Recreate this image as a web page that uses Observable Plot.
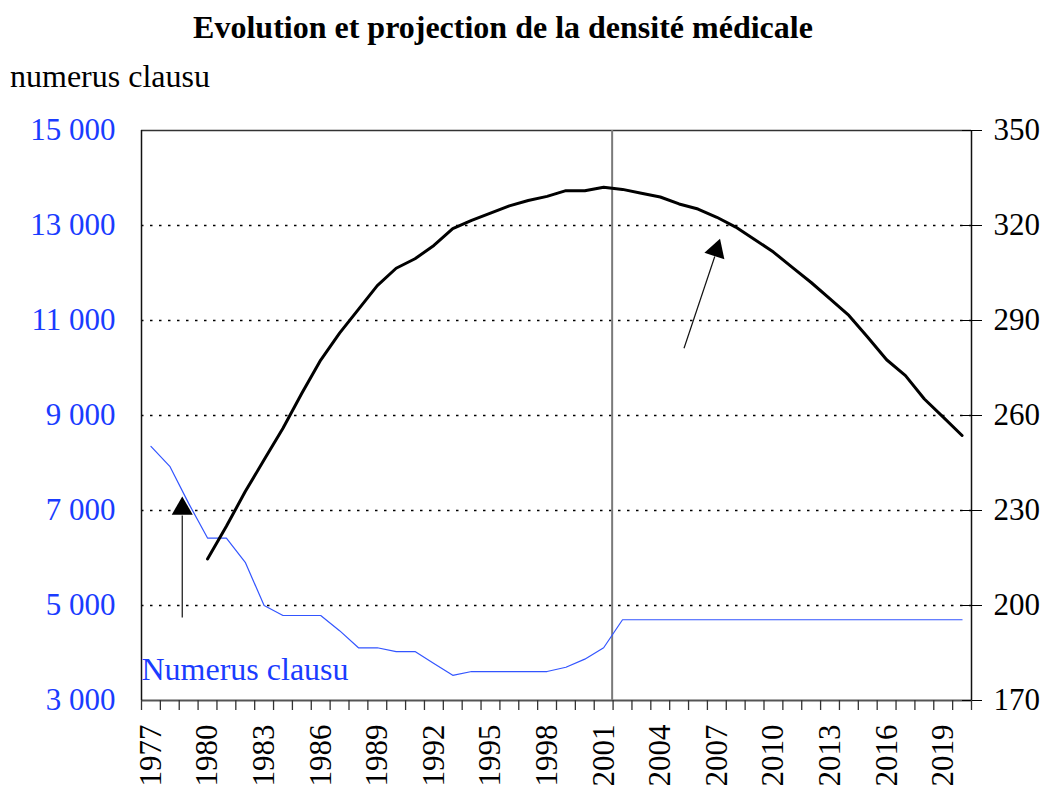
<!DOCTYPE html>
<html>
<head>
<meta charset="utf-8">
<script src="https://cdn.jsdelivr.net/npm/d3@7"></script>
<script src="https://cdn.jsdelivr.net/npm/@observablehq/plot@0.6"></script>
<style>
  html, body { margin: 0; padding: 0; background: #fff; }
  #wrap { position: relative; width: 1047px; height: 785px; overflow: hidden; font-family: "Liberation Serif", "Times New Roman", serif; }
  .title { position: absolute; left: 0; width: 1006px; top: 11px; text-align: center; font-weight: bold; font-size: 32px; line-height: 32px; color: #000; white-space: nowrap; }
  .sub { position: absolute; left: 10px; top: 60px; font-size: 32px; line-height: 32px; color: #000; white-space: nowrap; }
  #chart { position: absolute; left: 0; top: 0; }
</style>
</head>
<body>
<div id="wrap">
  <div id="chart"></div>
  <div class="title">Evolution et projection de la densité médicale</div>
  <div class="sub">numerus clausu</div>
</div>
<script>
// ---- data ----
const years = [1977,1978,1979,1980,1981,1982,1983,1984,1985,1986,1987,1988,1989,1990,1991,1992,1993,1994,1995,1996,1997,1998,1999,2000,2001,2002,2003,2004,2005,2006,2007,2008,2009,2010,2011,2012,2013,2014,2015,2016,2017,2018,2019,2020];
const numerusClausus = [8350,7930,7150,6420,6420,5910,5000,4790,4790,4790,4470,4110,4110,4030,4030,3780,3530,3610,3610,3610,3610,3610,3700,3870,4110,4700,4700,4700,4700,4700,4700,4700,4700,4700,4700,4700,4700,4700,4700,4700,4700,4700,4700,4700];
const densityYears = [1980,1981,1982,1983,1984,1985,1986,1987,1988,1989,1990,1991,1992,1993,1994,1995,1996,1997,1998,1999,2000,2001,2002,2003,2004,2005,2006,2007,2008,2009,2010,2011,2012,2013,2014,2015,2016,2017,2018,2019,2020];
const density = [214.7,225,236,246,256,267,277.5,286,293.5,301,306.5,309.5,313.7,319,321.6,323.9,326.2,327.9,329.2,331,331,332.1,331.4,330.2,329,326.8,325.2,322.6,319.5,315.6,311.6,306.8,302,296.8,291.6,284.7,277.6,272.6,265.2,259.5,253.7];

const leftTicks = [3000,5000,7000,9000,11000,13000,15000];
const leftTickLabels = ["3 000","5 000","7 000","9 000","11 000","13 000","15 000"];
const rightTicks = [170,200,230,260,290,320,350];
const xLabelYears = [1977,1980,1983,1986,1989,1992,1995,1998,2001,2004,2007,2010,2013,2016,2019];
const gridLines = [5000,7000,9000,11000,13000];
const xDomain = [1976.5, 2020.5];
const splitYear = [2001.45];
const seriesLabel = [{year: 1976.5, value: 3436, text: "Numerus clausu"}];
const arrowShafts = [
  {x1: 1978.66, y1: 4747, x2: 1978.66, y2: 6895},
  {x1: 2005.26, y1: 10417, x2: 2006.89, y2: 12347}
];
const arrowHeads = [
  {x: 1978.66, y: 7040, angle: 0},
  {x: 2006.97, y: 12478, angle: 18}
];

// ---- derived ----
const toLeft = d3.scaleLinear([170, 350], [3000, 15000]);
const numerusData = years.map((y, i) => ({year: y, value: numerusClausus[i]}));
const densityData = densityYears.map((y, i) => ({year: y, value: toLeft(density[i])}));
const xEdges = d3.range(years.length + 1).map(i => xDomain[0] + i);

const BLUE = "#1a3cff";
const FONT = "Liberation Serif, Times New Roman, serif";

const chart = Plot.plot({
  width: 1047,
  height: 785,
  marginLeft: 141,
  marginRight: 76,
  marginTop: 130,
  marginBottom: 85,
  style: {fontFamily: FONT, background: "transparent", overflow: "visible"},
  x: {domain: xDomain, axis: null},
  y: {domain: [3000, 15000], axis: null},
  marks: [
    Plot.ruleY(gridLines, {stroke: "#000", strokeWidth: 1.3, strokeDasharray: "2.5,6.5"}),
    Plot.ruleY([15000], {stroke: "#333", strokeWidth: 1.3}),
    Plot.ruleY([3000], {stroke: "#555", strokeWidth: 2}),
    Plot.ruleX([xDomain[0]], {stroke: "#111", strokeWidth: 1.5}),
    Plot.ruleX([xDomain[1]], {stroke: "#111", strokeWidth: 1.5}),
    Plot.ruleX(splitYear, {stroke: "#7a7a7a", strokeWidth: 2}),
    Plot.line(numerusData, {x: "year", y: "value", stroke: "#3355ff", strokeWidth: 1.2}),
    Plot.line(densityData, {x: "year", y: "value", stroke: "#000", strokeWidth: 3}),
    Plot.link(arrowShafts, {x1: "x1", y1: "y1", x2: "x2", y2: "y2", stroke: "#111", strokeWidth: 1.2}),
    Plot.dot(arrowHeads, {x: "x", y: "y", symbol: "triangle", r: 7.8, fill: "#000", stroke: null, rotate: "angle"}),
    Plot.text(seriesLabel, {x: "year", y: "value", text: "text", textAnchor: "start", lineAnchor: "bottom", fill: BLUE, fontSize: 32, fontFamily: FONT}),
    // left axis
    Plot.axisY(leftTicks, {anchor: "left", tickSize: 0, tickPadding: 26, fontSize: 31, fill: BLUE, fontFamily: FONT,
      tickFormat: d => leftTickLabels[leftTicks.indexOf(d)]}),
    // right axis
    Plot.axisY(rightTicks.map(toLeft), {anchor: "right", tickSize: 20, dx: -10, tickPadding: 12, fontSize: 31, fontFamily: FONT,
      stroke: "#000", fill: "#000", tickFormat: d => String(Math.round(toLeft.invert(d)))}),
    // x axis ticks at category edges
    Plot.axisX(xEdges, {anchor: "bottom", tickSize: 10, stroke: "#333", strokeWidth: 1.3, tickFormat: () => ""}),
    // x labels
    Plot.axisX(xLabelYears, {anchor: "bottom", tickSize: 0, tickPadding: 24, tickRotate: -90, fontSize: 31, fontFamily: FONT, fill: "#000",
      tickFormat: d => String(d)})
  ]
});
document.getElementById("chart").appendChild(chart);
</script>
</body>
</html>
